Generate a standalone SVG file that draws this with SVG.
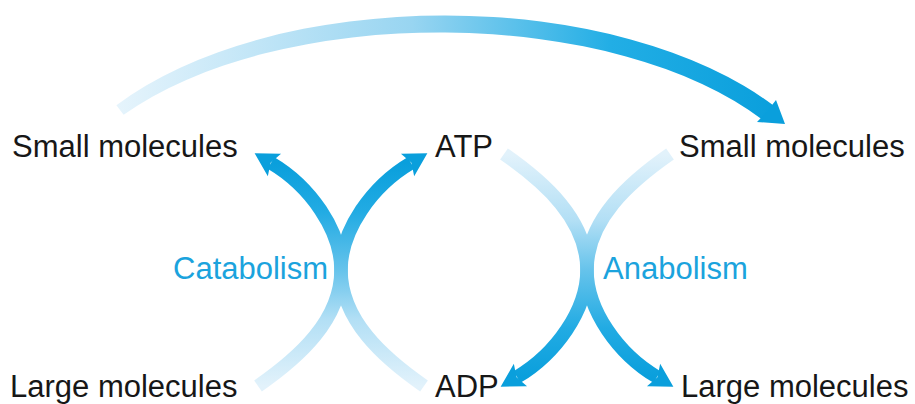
<svg xmlns="http://www.w3.org/2000/svg" width="915" height="404" viewBox="0 0 915 404">
  <defs>
    <style>
      .term { font-family: "Liberation Sans", Arial, Helvetica, sans-serif; font-size: 31px; fill: #171717; }
      .process { font-family: "Liberation Sans", Arial, Helvetica, sans-serif; font-size: 31px; fill: #1ba3dd; }
      .flow { fill: none; stroke: url(#fade); stroke-width: 13.5; stroke-linecap: butt; marker-end: url(#head); }
    </style>
    <!-- fade along a half-loop, in its own local frame: pale tail, deep head -->
    <linearGradient id="fade" gradientUnits="userSpaceOnUse" x1="0" y1="116" x2="0" y2="-107">
      <stop offset="0" stop-color="#e2f2fb"/>
      <stop offset="0.3" stop-color="#b2dff5"/>
      <stop offset="0.52" stop-color="#66c3eb"/>
      <stop offset="0.78" stop-color="#22abe3"/>
      <stop offset="1" stop-color="#0a9fdc"/>
    </linearGradient>
    <linearGradient id="sweep" gradientUnits="userSpaceOnUse" x1="116" y1="0" x2="775" y2="0">
      <stop offset="0" stop-color="#e6f4fc"/>
      <stop offset="0.45" stop-color="#98d5f1"/>
      <stop offset="0.75" stop-color="#22aee5"/>
      <stop offset="1" stop-color="#0a9fdc"/>
    </linearGradient>
    <marker id="head" markerUnits="userSpaceOnUse" markerWidth="40" markerHeight="40" viewBox="-10 -20 40 40" refX="0" refY="0" orient="auto">
      <path d="M19,0 L-4,-13 L0.5,0 L-4,13 Z" fill="#0a9fdc"/>
    </marker>
  </defs>

  <rect width="915" height="404" fill="#ffffff"/>

  <g id="connectors">
    <!-- overarching arc: small molecules carried across, widening toward its head -->
    <path id="arc-small" d="M116.4,105.2 A399,208 0 0 1 773.5,105.6 L762.5,119.8 A385,192 0 0 0 123.6,114.8 Z" fill="url(#sweep)"/>
    <path d="M785,124 L776,100 L767,111.5 L757,122 Z" fill="#0a9fdc"/>

    <!-- catabolism: large molecules to small molecules, ADP to ATP -->
    <path class="flow" transform="translate(341,270)" d="M-83,116 C-42,87.5 0,50 0,0 C0,-40 -31,-84 -70,-107"/>
    <path class="flow" transform="translate(341,270) scale(-1,1)" d="M-83,116 C-42,87.5 0,50 0,0 C0,-40 -31,-84 -70,-107"/>

    <!-- anabolism: ATP to ADP, small molecules to large molecules -->
    <path class="flow" transform="translate(587,270) scale(1,-1)" d="M-83,116 C-42,87.5 0,50 0,0 C0,-40 -31,-84 -70,-107"/>
    <path class="flow" transform="translate(587,270) scale(-1,-1)" d="M-83,116 C-42,87.5 0,50 0,0 C0,-40 -31,-84 -70,-107"/>
  </g>

  <g id="small-molecules-left"><text class="term" x="12" y="157">Small molecules</text></g>
  <g id="atp"><text class="term" x="435" y="157">ATP</text></g>
  <g id="small-molecules-right"><text class="term" x="679" y="157">Small molecules</text></g>
  <g id="large-molecules-left"><text class="term" x="10" y="397">Large molecules</text></g>
  <g id="adp"><text class="term" x="435" y="397">ADP</text></g>
  <g id="large-molecules-right"><text class="term" x="681" y="397">Large molecules</text></g>
  <g id="catabolism"><text class="process" x="173" y="279">Catabolism</text></g>
  <g id="anabolism"><text class="process" x="603" y="279">Anabolism</text></g>
</svg>
